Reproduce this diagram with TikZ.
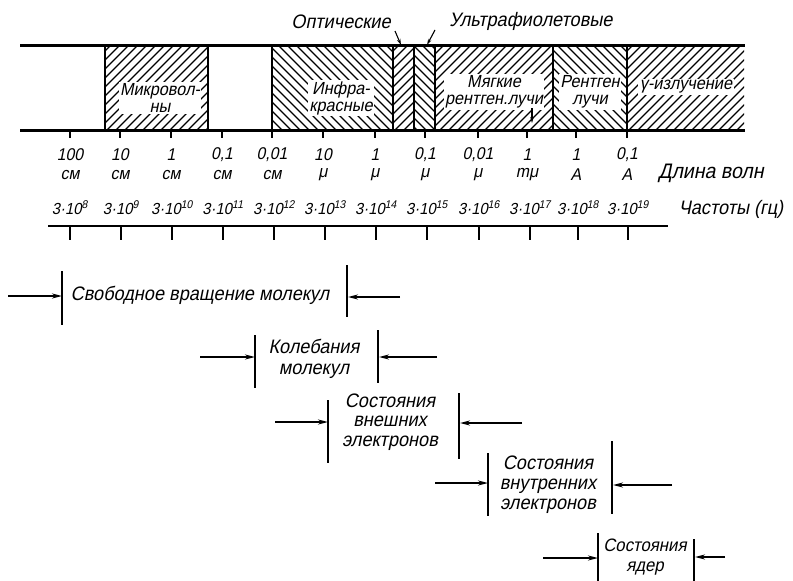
\documentclass[tikz,border=0pt]{standalone}
\usepackage{fontspec}
\setmainfont{Liberation Sans}[FakeSlant=0.2,FakeStretch=0.93]
\usetikzlibrary{arrows.meta}
\begin{document}
\begin{tikzpicture}[x=1pt,y=-1pt,
  lab/.style={font=\fontsize{19.5}{21}\selectfont, inner sep=1pt, align=center},
  blab/.style={font=\fontsize{17.5}{17}\selectfont, inner sep=1.5pt, fill=white, align=center},
  num/.style={font=\fontsize{17}{18}\selectfont, inner sep=0pt},
  frq/.style={font=\fontsize{16}{18}\selectfont, inner sep=0pt},
  band/.style={line width=2.5pt},
  sep/.style={line width=2.2pt},
  hl/.style={line width=1.1pt},
  tick/.style={line width=1.4pt},
  bar/.style={line width=1.4pt},
  arr/.style={line width=1.6pt,-{Stealth[length=10pt,width=5pt]}},
  sarr/.style={line width=1.1pt,-{Stealth[length=6pt,width=3.5pt]}},
]
\useasboundingbox (0,0) rectangle (793,581);

% ---------- hatching of the bands ----------
\foreach \a/\b/\d in {105/208/1,272/393/0,393/414/1,414/435/0,435/553/1,553/627/0,627/744/1}{
  \begin{scope}
    \clip (\a,45) rectangle (\b,130);
    \foreach \k in {-100,-91,...,760}{
      \ifnum\d=1 \draw[hl] (\k,130) -- (\k+85,45);\else \draw[hl] (\k,45) -- (\k+85,130);\fi
    }
  \end{scope}
}

% ---------- band frame ----------
\coordinate (TL) at (20,45.5);  \coordinate (TR) at (745,45.5);
\coordinate (BL) at (20,130);   \coordinate (BR) at (745,130);
\draw[band] (TL) -- (TR);
\draw[band,line width=3pt] (BL) -- (BR);
\foreach \x [count=\i] in {105,208,272,393,414,435,553,627}{
  \coordinate (st\i) at (\x,45); \coordinate (sb\i) at (\x,130);
  \draw[sep] (st\i) -- (sb\i);
}

% ---------- band labels ----------
\node[blab] (mw)  at (160,98) {Микровол-\\ны};
\node[blab] (ir)  at (341,98) {Инфра-\\красные};
\node[blab] (sx)  at (494,92) {Мягкие\\рентген.лучи};
\node[blab] (xr)  at (590,92) {Рентген\\лучи};
\node[blab] (gam) at (686,87) {γ-излучение};
\coordinate (sxa) at (532,108); \coordinate (sxb) at (532,123);
\draw[sarr] (sxa) -- (sxb);

\node[lab] (opt) at (341,22) {Оптические};
\node[lab] (uv)  at (531,21) {Ультрафиолетовые};
\coordinate (opttip) at (401,45); \coordinate (uvtip) at (427,45);
\coordinate (opts) at (395,31); \coordinate (uvs) at (435,30);
\draw[sarr] (opts) -- (opttip);
\draw[sarr] (uvs) -- (uvtip);

% ---------- wavelength scale ----------
\foreach \x/\n/\u [count=\i] in {70/100/см,120/10/см,171/1/см,222/{0,1}/см,272/{0,01}/см,
   323/10/μ,375/1/μ,425/{0,1}/μ,478/{0,01}/μ,527/1/mμ,576/1/A,627/{0,1}/A}{
  \coordinate (w\i) at (\x,130);
  \draw[tick] (w\i) -- ++(0,8);
  \node[num] (wn\i) at (\x,155) {\n};
  \node[num] (wu\i) at (\x,175) {\u};
}
\node[lab,font=\fontsize{21}{21}\selectfont] (wl) at (711,173) {Длина волн};

% ---------- frequency scale ----------
\coordinate (FL) at (48,226); \coordinate (FR) at (668,226);
\draw[band] (FL) -- (FR);
\foreach \x/\e [count=\i] in {70/8,121/9,172/10,223/11,274/12,325/13,376/14,427/15,479/16,530/17,578/18,628/19}{
  \coordinate (f\i) at (\x,226);
  \draw[tick] (f\i) -- ++(0,14);
  \node[frq] (fn\i) at (\x,208) {3·10\textsuperscript{\e}};
}
\node[lab] (fq) at (731,209) {Частоты (гц)};

% ---------- ranges ----------
% row 1
\node[lab] (r1) at (200,295) {Свободное вращение молекул};
\coordinate (r1lt) at (62,271); \coordinate (r1lb) at (62,325);
\coordinate (r1rt) at (347,265); \coordinate (r1rb) at (347,317);
\draw[bar] (r1lt) -- (r1lb); \draw[bar] (r1rt) -- (r1rb);
\coordinate (r1a) at (8,296);   \coordinate (r1ae) at (62,296);
\coordinate (r1b) at (400,297); \coordinate (r1be) at (348,297);
\draw[arr] (r1a) -- (r1ae); \draw[arr] (r1b) -- (r1be);
% row 2
\node[lab] (r2) at (314,359) {Колебания\\молекул};
\coordinate (r2lt) at (255,335); \coordinate (r2lb) at (255,388);
\coordinate (r2rt) at (378,330); \coordinate (r2rb) at (378,383);
\draw[bar] (r2lt) -- (r2lb); \draw[bar] (r2rt) -- (r2rb);
\coordinate (r2a) at (200,357); \coordinate (r2ae) at (255,357);
\coordinate (r2b) at (437,357); \coordinate (r2be) at (379,357);
\draw[arr] (r2a) -- (r2ae); \draw[arr] (r2b) -- (r2be);
% row 3
\node[lab,font=\fontsize{19.5}{19.5}\selectfont] (r3) at (390,422) {Состояния\\внешних\\электронов};
\coordinate (r3lt) at (328,400); \coordinate (r3lb) at (328,463);
\coordinate (r3rt) at (459,393); \coordinate (r3rb) at (459,459);
\draw[bar] (r3lt) -- (r3lb); \draw[bar] (r3rt) -- (r3rb);
\coordinate (r3a) at (275,422); \coordinate (r3ae) at (328,422);
\coordinate (r3b) at (522,423); \coordinate (r3be) at (460,423);
\draw[arr] (r3a) -- (r3ae); \draw[arr] (r3b) -- (r3be);
% row 4
\node[lab,font=\fontsize{19.5}{20}\selectfont] (r4) at (548,485) {Состояния\\внутренних\\электронов};
\coordinate (r4lt) at (488,453); \coordinate (r4lb) at (488,516);
\coordinate (r4rt) at (612,441); \coordinate (r4rb) at (612,514);
\draw[bar] (r4lt) -- (r4lb); \draw[bar] (r4rt) -- (r4rb);
\coordinate (r4a) at (435,483); \coordinate (r4ae) at (488,483);
\coordinate (r4b) at (672,485); \coordinate (r4be) at (613,485);
\draw[arr] (r4a) -- (r4ae); \draw[arr] (r4b) -- (r4be);
% row 5
\node[lab,font=\fontsize{18}{20}\selectfont] (r5) at (645,557) {Состояния\\ядер};
\coordinate (r5lt) at (598,533); \coordinate (r5lb) at (598,581);
\coordinate (r5rt) at (694,539); \coordinate (r5rb) at (694,581);
\draw[bar] (r5lt) -- (r5lb); \draw[bar] (r5rt) -- (r5rb);
\coordinate (r5a) at (543,558); \coordinate (r5ae) at (598,558);
\coordinate (r5b) at (725,557); \coordinate (r5be) at (695,557);
\draw[arr] (r5a) -- (r5ae); \draw[arr] (r5b) -- (r5be);
\end{tikzpicture}
\end{document}
